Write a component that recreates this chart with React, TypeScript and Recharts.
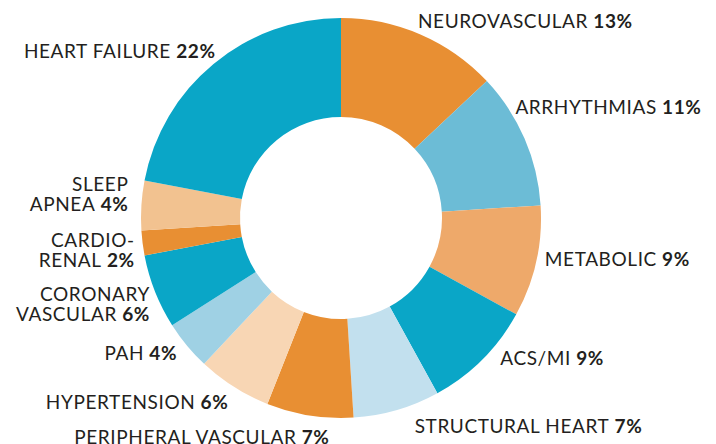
import { PieChart, Pie, Cell } from "recharts";

const CATEGORIES = [
  "NEUROVASCULAR",
  "ARRHYTHMIAS",
  "METABOLIC",
  "ACS/MI",
  "STRUCTURAL HEART",
  "PERIPHERAL VASCULAR",
  "HYPERTENSION",
  "PAH",
  "CORONARY\nVASCULAR",
  "CARDIO-\nRENAL",
  "SLEEP\nAPNEA",
  "HEART FAILURE",
];
const SHARES = [13, 11, 9, 9, 7, 7, 6, 4, 6, 2, 4, 22];
const COLORS = [
  "#e88f33",
  "#6cbcd6",
  "#eea96a",
  "#0aa6c7",
  "#c2e0ee",
  "#e88f33",
  "#f8d6b4",
  "#9fd1e4",
  "#0aa6c7",
  "#e88f33",
  "#f2c290",
  "#0aa6c7",
];

// hand-tuned label nudges (dx, dy) away from the default radial spot
const LABEL_NUDGE = [
  [-8, -2],
  [-22, -27],
  [-5, -7],
  [8, -12],
  [14, 1],
  [22, 7],
  [2, 2],
  [1, -2],
  [8, 6],
  [6, 4],
  [1, -12],
  [11, -3],
];

const data = CATEGORIES.map((name, i) => ({ name, value: SHARES[i] }));

const RADIAN = Math.PI / 180;
const FONT = "Lato, 'Open Sans', sans-serif";

function renderLabel(props: any) {
  const { cx, cy, midAngle, outerRadius, index } = props;
  const r = outerRadius + 14;
  const cos = Math.cos(-midAngle * RADIAN);
  const sin = Math.sin(-midAngle * RADIAN);
  const [dx, dy] = LABEL_NUDGE[index];
  const x = cx + r * cos + dx;
  const y = cy + r * sin + dy;
  const anchor = cos >= 0 ? "start" : "end";
  const lines = CATEGORIES[index].split("\n");
  const lineH = 20;
  const y0 = y - ((lines.length - 1) * lineH) / 2;
  return (
    <text
      key={index}
      x={x}
      y={y0}
      textAnchor={anchor}
      dominantBaseline="central"
      fill="#231f20"
      style={{ fontFamily: FONT, fontSize: 19, letterSpacing: 0.6 }}
    >
      {lines.map((ln, j) => (
        <tspan key={j} x={x} dy={j === 0 ? 0 : lineH}>
          {ln}
          {j === lines.length - 1 && (
            <tspan fontWeight={700}> {SHARES[index]}%</tspan>
          )}
        </tspan>
      ))}
    </text>
  );
}

export default function App() {
  return (
    <div style={{ position: "absolute", left: 0, top: 0, background: "#fff" }}>
      <PieChart width={716} height={444} margin={{ top: 0, right: 0, bottom: 0, left: 0 }}>
        <Pie
          data={data}
          dataKey="value"
          cx={341}
          cy={218}
          innerRadius={101}
          outerRadius={200}
          startAngle={90}
          endAngle={-270}
          stroke="none"
          label={renderLabel}
          labelLine={false}
          isAnimationActive={false}
        >
          {data.map((_, i) => (
            <Cell key={i} fill={COLORS[i]} />
          ))}
        </Pie>
      </PieChart>
    </div>
  );
}
